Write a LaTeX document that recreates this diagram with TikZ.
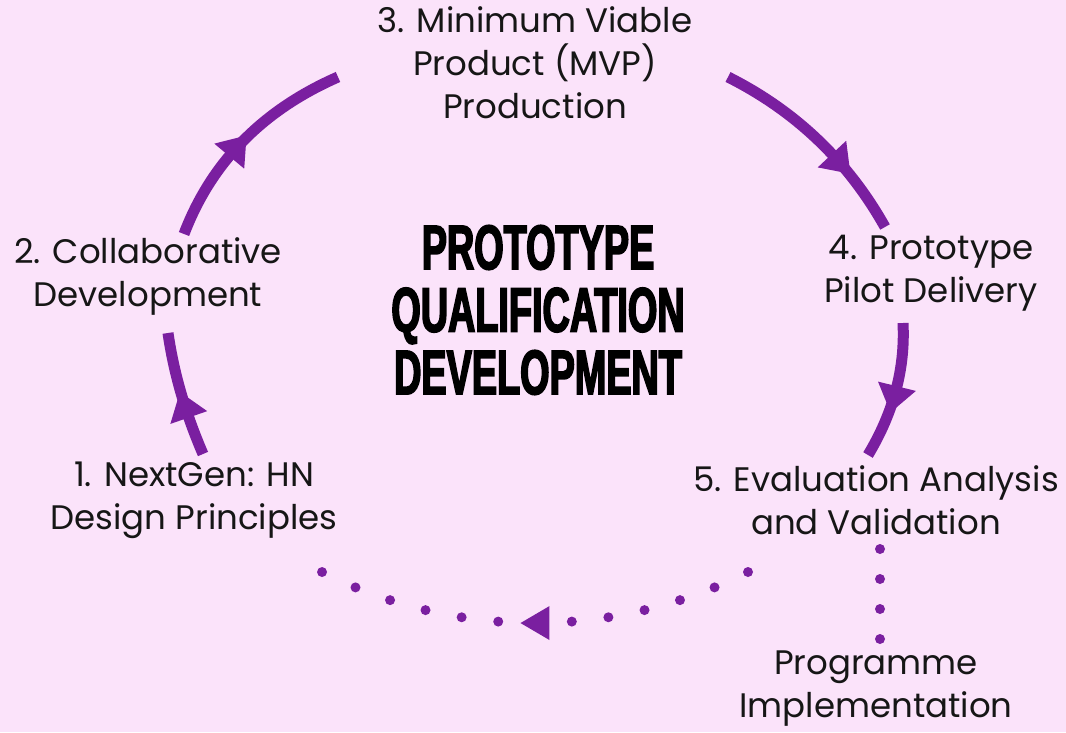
\documentclass[tikz,border=0pt]{standalone}
\usepackage{fontspec}
\setmainfont{Poppins}
\newfontfamily\headfont[FakeStretch=0.6,FakeBold=2.5]{Liberation Sans Bold}
\usetikzlibrary{decorations.markings}

\definecolor{bgpink}{HTML}{FBE3FA}
\definecolor{ringpurple}{HTML}{7A1FA0}
\definecolor{ink}{HTML}{161616}

\tikzset{
  stage/.style={align=center, text=ink, inner sep=0pt,
    font=\fontsize{34}{43}\selectfont},
  headline/.style={align=center, text=black, inner sep=0pt,
    font=\headfont\fontsize{63}{62.5}\selectfont},
  ring/.style={draw=ringpurple, line width=11pt},
  midarrow/.style={postaction={decorate}, decoration={markings,
    mark=at position #1 with {\fill[ringpurple] (27pt,0pt) -- (0pt,19.5pt) -- (0pt,-19.5pt) -- cycle;}}},
  dotline/.style={draw=ringpurple, line width=10pt, line cap=round,
    dash pattern=on 0pt off #1},
  loopback/.style={postaction={decorate}, decoration={markings,
    mark=at position 0.5 with {\fill[ringpurple] (14.5pt,0pt) -- (-14.5pt,17pt) -- (-14.5pt,-17pt) -- cycle;}}},
}

\begin{document}
\begin{tikzpicture}[x=1pt,y=-1pt]
  \fill[bgpink] (0,0) rectangle (1066,732);
  \useasboundingbox (0,0) rectangle (1066,732);

  % stage labels
  \node[stage] (s3) at (535,63) {3. Minimum Viable\\Product (MVP)\\Production};
  \node[stage] (s2) at (148,276) {2. Collaborative\\Development};
  \node[stage] (s1) at (194,500) {1. NextGen: HN\\Design Principles};
  \node[stage] (s4) at (931,273) {4. Prototype\\Pilot Delivery};
  \node[stage] (s5) at (876,500) {5. Evaluation Analysis\\and Validation};
  \node[stage] (s6) at (876,689) {Programme\\Implementation};

  % central heading
  \node[headline] (core) at (538,310) {PROTOTYPE\\QUALIFICATION\\DEVELOPMENT};

  % arc end points
  \coordinate (a1s) at (203,454);
  \coordinate (a1e) at (168,333);
  \coordinate (a2s) at (184,234);
  \coordinate (a2e) at (338,77);
  \coordinate (a3s) at (728,77);
  \coordinate (a3e) at (885,227);
  \coordinate (a4s) at (903,323);
  \coordinate (a4e) at (868,455);

  % solid arcs of the cycle
  \draw[ring, midarrow=0.31] (a1s) .. controls (185.3,413) and (173.7,372.7) .. (a1e);
  \draw[ring, midarrow=0.40] (a2s) .. controls (211.3,162.3) and (262.7,110) .. (a2e);
  \draw[ring, midarrow=0.59] (a3s) .. controls (795.7,111) and (848,161) .. (a3e);
  \draw[ring, midarrow=0.46] (a4s) .. controls (905.3,368.3) and (893.7,412.3) .. (a4e);

  % dotted return from stage 5 to stage 1
  \coordinate (d5) at (748,572);
  \coordinate (d1) at (322,572);
  \draw[dotline=36.84pt, loopback] (d5) arc[start angle=63.05, end angle=116.95, radius=470];

  % dotted branch to programme implementation
  \coordinate (v1) at (880,549);
  \coordinate (v2) at (880,639);
  \draw[dotline=30pt] (v1) -- (v2);
\end{tikzpicture}
\end{document}
